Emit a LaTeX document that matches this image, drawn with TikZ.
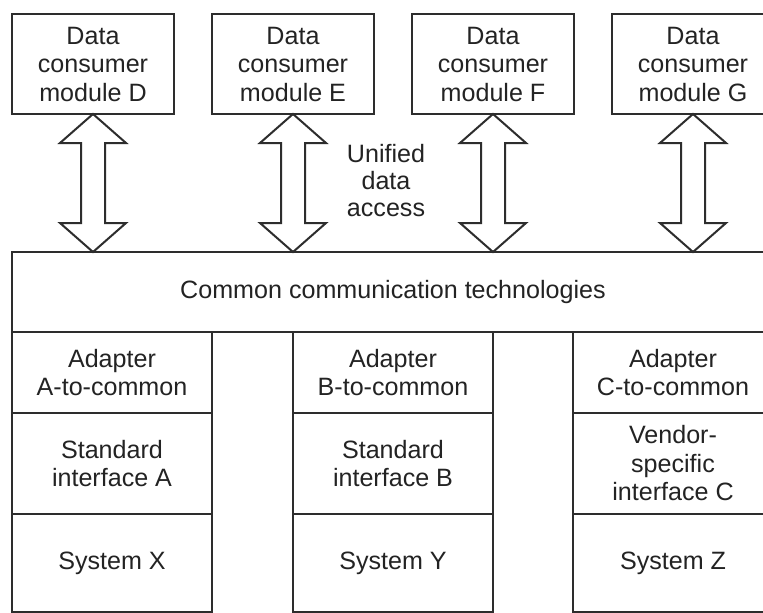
\documentclass[tikz,border=0pt]{standalone}
\usepackage{fontspec}
\setmainfont{Liberation Sans}
\usetikzlibrary{calc}
\definecolor{ln}{RGB}{45,45,45}
\definecolor{tx}{RGB}{35,35,35}
\tikzset{
  box/.style={draw=ln, line width=2pt, fill=white, outer sep=0pt, inner sep=0pt,
    align=center, text=tx, font=\fontsize{25.1}{28.5}\selectfont},
  blockarr/.style={draw=ln, line width=2pt, fill=white, line join=miter},
  lbl/.style={align=center, text=tx, inner sep=0pt, font=\fontsize{25.1}{27}\selectfont}
}
\newcommand\dblarrow[2]{%
  \path[blockarr] (#1.south) -- ++(33,29) -- ++(-21,0)
    -- ($(#1.south |- #2.north)+(12,-29)$) -- ++(21,0)
    -- (#1.south |- #2.north) -- ++(-33,-29) -- ++(21,0)
    -- ($(#1.south)+(-12,29)$) -- ++(-21,0) -- cycle;}
\begin{document}
\begin{tikzpicture}[x=1pt,y=-1pt]
\useasboundingbox (0,0) rectangle (763,613);
\clip (0,0) rectangle (763,613);
\fill[white] (0,0) rectangle (763,613);
% consumer modules
\node[box, minimum width=162pt, minimum height=100pt] (D) at (93,64) {Data\\consumer\\module D};
\node[box, minimum width=162pt, minimum height=100pt] (E) at (293,64) {Data\\consumer\\module E};
\node[box, minimum width=162pt, minimum height=100pt] (F) at (493,64) {Data\\consumer\\module F};
\node[box, minimum width=162pt, minimum height=100pt] (G) at (693,64) {Data\\consumer\\module G};
% common layer
\node[box, minimum width=762pt, minimum height=80pt] (main) at (393,292) {Common communication technologies};
% arrows
\dblarrow{D}{main}
\dblarrow{E}{main}
\dblarrow{F}{main}
\dblarrow{G}{main}
\node[lbl] (uda) at (386,181) {Unified\\data\\access};
% column A
\node[box, minimum width=200pt, minimum height=81pt] (adA) at (112,372.5) {Adapter\\A-to-common};
\node[box, minimum width=200pt, minimum height=101pt] (ifA) at (112,463.5) {Standard\\interface A};
\node[box, minimum width=200pt, minimum height=98pt] (sysA) at (112,563) {System X};
% column B
\node[box, minimum width=200pt, minimum height=81pt] (adB) at (393,372.5) {Adapter\\B-to-common};
\node[box, minimum width=200pt, minimum height=101pt] (ifB) at (393,463.5) {Standard\\interface B};
\node[box, minimum width=200pt, minimum height=98pt] (sysB) at (393,563) {System Y};
% column C
\node[box, minimum width=200pt, minimum height=81pt] (adC) at (673,372.5) {Adapter\\C-to-common};
\node[box, minimum width=200pt, minimum height=101pt] (ifC) at (673,463.5) {Vendor-\\specific\\interface C};
\node[box, minimum width=200pt, minimum height=98pt] (sysC) at (673,563) {System Z};
\end{tikzpicture}
\end{document}
